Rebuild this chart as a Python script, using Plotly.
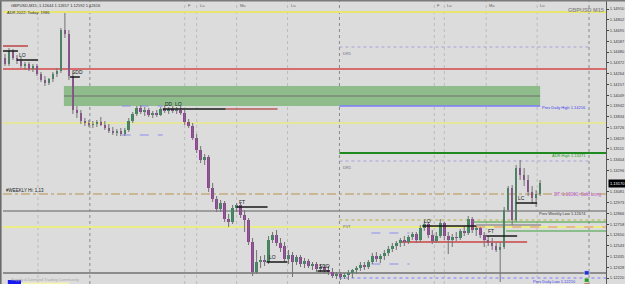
import plotly.graph_objects as go

# ---------------- data (GBPUSD M15 candles) ----------------
opens = [1.1442, 1.1436, 1.1449, 1.1442, 1.1439, 1.1434, 1.1436, 1.1431, 1.1434, 1.1426,
         1.1420, 1.1417, 1.1421, 1.1426, 1.1429, 1.1470, 1.1466, 1.1424, 1.1390, 1.1387,
         1.1379, 1.1377, 1.1375, 1.1376, 1.1378, 1.1375, 1.1372, 1.1369, 1.1367, 1.1369,
         1.1366, 1.1370, 1.1379, 1.1386, 1.1392, 1.1388, 1.1390, 1.1385, 1.1387, 1.1385,
         1.1391, 1.1389, 1.1391, 1.1389, 1.1390, 1.1387, 1.1378, 1.1374, 1.1362, 1.1350,
         1.1340, 1.1343, 1.1312, 1.1301, 1.1291, 1.1297, 1.1281, 1.1278, 1.1292, 1.1295,
         1.1285, 1.1280, 1.1258, 1.1228, 1.1238, 1.1240, 1.1238, 1.1260, 1.1265, 1.1257,
         1.1254, 1.1241, 1.1245, 1.1238, 1.1243, 1.1236, 1.1239, 1.1234, 1.1236, 1.1231,
         1.1233, 1.1230, 1.1228, 1.1224, 1.1226, 1.1223, 1.1225, 1.1227, 1.1230, 1.1232,
         1.1235, 1.1233, 1.1238, 1.1244, 1.1241, 1.1244, 1.1247, 1.1251, 1.1254, 1.1257,
         1.1260, 1.1258, 1.1263, 1.1266, 1.1260, 1.1272, 1.1276, 1.1265, 1.1259, 1.1264,
         1.1277, 1.1264, 1.1260, 1.1263, 1.1262, 1.1269, 1.1267, 1.1281, 1.1270, 1.1272,
         1.1265, 1.1260, 1.1257, 1.1254, 1.1250, 1.1253, 1.1290, 1.1312, 1.1280, 1.1332,
         1.1325, 1.1320, 1.1308, 1.1302, 1.1306]
highs = [1.1446, 1.1452, 1.1451, 1.1445, 1.1443, 1.1438, 1.1438, 1.1436, 1.1436, 1.1428,
         1.1424, 1.1422, 1.1428, 1.1432, 1.1472, 1.1487, 1.1470, 1.1428, 1.1394, 1.1390,
         1.1382, 1.1380, 1.1379, 1.1380, 1.1383, 1.1379, 1.1376, 1.1373, 1.1371, 1.1372,
         1.1372, 1.1382, 1.1388, 1.1394, 1.1395, 1.1393, 1.1392, 1.1389, 1.1390, 1.1393,
         1.1395, 1.1393, 1.1394, 1.1393, 1.1394, 1.1390, 1.1381, 1.1377, 1.1366, 1.1354,
         1.1346, 1.1345, 1.1317, 1.1304, 1.1300, 1.1299, 1.1286, 1.1295, 1.1297, 1.1297,
         1.1290, 1.1282, 1.1262, 1.1250, 1.1244, 1.1245, 1.1264, 1.1268, 1.1270, 1.1262,
         1.1258, 1.1250, 1.1248, 1.1245, 1.1245, 1.1242, 1.1241, 1.1238, 1.1238, 1.1236,
         1.1235, 1.1234, 1.1232, 1.1228, 1.1228, 1.1227, 1.1230, 1.1231, 1.1234, 1.1238,
         1.1238, 1.1240, 1.1247, 1.1248, 1.1246, 1.1250, 1.1254, 1.1257, 1.1259, 1.1262,
         1.1264, 1.1265, 1.1268, 1.1268, 1.1275, 1.1279, 1.1278, 1.1270, 1.1268, 1.1281,
         1.1278, 1.1268, 1.1266, 1.1268, 1.1271, 1.1274, 1.1284, 1.1283, 1.1274, 1.1273,
         1.1268, 1.1264, 1.1262, 1.1258, 1.1258, 1.1293, 1.1314, 1.1315, 1.1335, 1.1340,
         1.1332, 1.1325, 1.1314, 1.1310, 1.1320]
lows = [1.1434, 1.1434, 1.1440, 1.1436, 1.1432, 1.1430, 1.1429, 1.1428, 1.1424, 1.1418,
        1.1414, 1.1415, 1.1418, 1.1423, 1.1427, 1.1462, 1.1420, 1.1386, 1.1382, 1.1376,
        1.1374, 1.1373, 1.1372, 1.1373, 1.1374, 1.1370, 1.1367, 1.1365, 1.1364, 1.1364,
        1.1364, 1.1368, 1.1377, 1.1384, 1.1386, 1.1384, 1.1383, 1.1382, 1.1383, 1.1384,
        1.1387, 1.1386, 1.1387, 1.1386, 1.1385, 1.1375, 1.1372, 1.1360, 1.1347, 1.1337,
        1.1335, 1.1308, 1.1298, 1.1288, 1.1288, 1.1278, 1.1273, 1.1276, 1.1288, 1.1282,
        1.1268, 1.1255, 1.1224, 1.1226, 1.1232, 1.1234, 1.1236, 1.1257, 1.1254, 1.1248,
        1.1238, 1.1236, 1.1223, 1.1235, 1.1233, 1.1232, 1.1232, 1.1230, 1.1228, 1.1228,
        1.1227, 1.1225, 1.1222, 1.1221, 1.1220, 1.1221, 1.1220, 1.1222, 1.1226, 1.1229,
        1.1230, 1.1231, 1.1236, 1.1238, 1.1237, 1.1240, 1.1244, 1.1248, 1.1250, 1.1253,
        1.1254, 1.1256, 1.1260, 1.1257, 1.1258, 1.1269, 1.1262, 1.1256, 1.1257, 1.1262,
        1.1260, 1.1246, 1.1253, 1.1259, 1.1260, 1.1264, 1.1265, 1.1267, 1.1264, 1.1262,
        1.1253, 1.1254, 1.1250, 1.1248, 1.1218, 1.1251, 1.1288, 1.1275, 1.1278, 1.1320,
        1.1314, 1.1304, 1.1296, 1.1293, 1.1304]
closes = [1.1436, 1.1449, 1.1442, 1.1439, 1.1434, 1.1436, 1.1431, 1.1434, 1.1426, 1.1420,
          1.1417, 1.1421, 1.1426, 1.1429, 1.1470, 1.1466, 1.1424, 1.1390, 1.1387, 1.1379,
          1.1377, 1.1375, 1.1376, 1.1378, 1.1375, 1.1372, 1.1369, 1.1367, 1.1369, 1.1366,
          1.1370, 1.1379, 1.1386, 1.1392, 1.1388, 1.1390, 1.1385, 1.1387, 1.1385, 1.1391,
          1.1389, 1.1391, 1.1389, 1.1390, 1.1387, 1.1378, 1.1374, 1.1362, 1.1350, 1.1340,
          1.1343, 1.1312, 1.1301, 1.1291, 1.1297, 1.1281, 1.1278, 1.1292, 1.1295, 1.1285,
          1.1280, 1.1258, 1.1228, 1.1238, 1.1240, 1.1238, 1.1260, 1.1265, 1.1257, 1.1252,
          1.1241, 1.1245, 1.1238, 1.1243, 1.1236, 1.1239, 1.1234, 1.1236, 1.1231, 1.1233,
          1.1230, 1.1228, 1.1224, 1.1226, 1.1223, 1.1225, 1.1227, 1.1230, 1.1232, 1.1235,
          1.1233, 1.1238, 1.1244, 1.1241, 1.1244, 1.1247, 1.1251, 1.1254, 1.1257, 1.1260,
          1.1258, 1.1263, 1.1266, 1.1260, 1.1272, 1.1276, 1.1265, 1.1259, 1.1264, 1.1277,
          1.1264, 1.1260, 1.1263, 1.1262, 1.1269, 1.1267, 1.1281, 1.1270, 1.1272, 1.1265,
          1.1260, 1.1257, 1.1254, 1.1250, 1.1253, 1.1290, 1.1312, 1.1280, 1.1332, 1.1325,
          1.1320, 1.1308, 1.1302, 1.1306, 1.1317]
bar_index = list(range(len(opens)))

# right price-axis ticks (the one hidden under the last-price box is left out)
tick_prices = [1.14910, 1.14802, 1.14695, 1.14587, 1.14480, 1.14372, 1.14264, 1.14157,
               1.14049, 1.13942, 1.13834, 1.13726, 1.13619, 1.13511, 1.13404, 1.13296,
               1.13081, 1.12973, 1.12866, 1.12758, 1.12650, 1.12543, 1.12435,
               1.12328, 1.12220]

# session separators (bar index)
sep_light = [8.25, 45, 48, 58, 70.75, 107.5, 110, 120.5, 133.25]
sep_dark = [21.25, 83.75, 146.25]
sep_names = ["F", "Lu", "Ma", "Lu", "F", "Lu", "Ma", "Lu"]
sep_name_pos = [45, 48, 58, 70.75, 107.5, 110, 120.5, 133.25]

# full-width levels
full_prices = [1.1488, 1.1431, 1.1377, 1.1306, 1.1289, 1.1273, 1.1227]
# partial levels: price, start bar, end bar
part_prices = [1.1404, 1.1394, 1.1347, 1.1339, 1.1453, 1.1280, 1.1278, 1.1269, 1.1273,
               1.1258, 1.1222]
part_x0 = [14.75, 83.75, 83.75, 83.75, 83.75, 83.75, 116.75, 125.5, 118, 99.25, 83.75]
part_x1 = [134, 134, 150.5, 146.25, 146.25, 150.5, 150.5, 150.5, 150.5, 130.75, 150.5]
zone_low, zone_high, zone_x0, zone_x1 = 1.1394, 1.1414, 14.75, 134

# structure lines (price, start bar, end bar) with labels
struct_prices = [1.1449, 1.1440, 1.1423, 1.1391, 1.1293, 1.1238, 1.1229, 1.1274, 1.1264, 1.1297]
struct_x0 = [-0.5, 3, 16.25, 39.5, 58, 65.5, 78.25, 104.5, 120.5, 128]
struct_x1 = [3.25, 8.25, 18.75, 55.25, 65.75, 70.75, 81.25, 118, 128.25, 133.25]
struct_labels = ["", "LO", "SDD", "DD  LO", "FT", "LO", "SDD", "LO", "FT", "LC"]

BG = "#dcdcdc"
UP = "#2f8f5a"
DN = "#983c9f"
F = "Liberation Sans"

fig = go.Figure()

# wicks
wx, wy = [], []
for i, h, l in zip(bar_index, highs, lows):
    wx += [i, i, None]
    wy += [l, h, None]
fig.add_trace(go.Scatter(x=wx, y=wy, mode="lines", line=dict(color="#727272", width=1),
                         hoverinfo="skip", showlegend=False))
# bodies
fig.add_trace(go.Bar(x=bar_index, base=opens, y=[c - o for o, c in zip(opens, closes)],
                     marker=dict(color=[UP if c >= o else DN for o, c in zip(opens, closes)],
                                 line=dict(width=0)),
                     width=0.65, showlegend=False))

shapes = []
for s in sep_light:
    shapes.append(dict(type="line", xref="x", yref="paper", x0=s, x1=s, y0=0, y1=1,
                       line=dict(color="#bcbcbc", width=1, dash="dot"), layer="below"))
for s in sep_dark:
    shapes.append(dict(type="line", xref="x", yref="paper", x0=s, x1=s, y0=0, y1=1,
                       line=dict(color="#8a8a8a", width=1, dash="dot"), layer="below"))
shapes.append(dict(type="rect", xref="x", yref="y", x0=zone_x0, x1=zone_x1, y0=zone_low,
                   y1=zone_high, fillcolor="#8fbc8b", line=dict(width=0), layer="below"))
full_styles = [("#e8e66e", 2, "solid"), ("#d64a4a", 1.5, "solid"), ("#eeee5a", 1, "solid"),
               ("#b8914a", 1.2, "dashdot"), ("#8a8a8a", 1.5, "solid"), ("#ecec84", 2, "solid"),
               ("#8c8c8c", 2, "solid")]
for p, (c, w, d) in zip(full_prices, full_styles):
    shapes.append(dict(type="line", xref="paper", yref="y", x0=0, x1=1, y0=p, y1=p,
                       line=dict(color=c, width=w, dash=d), layer="below"))
part_styles = [("#6e6e6e", 1, "solid"), ("#7d7dff", 1.5, "solid"), ("#1f8a1f", 2, "solid"),
               ("#a8a0dc", 1, "dot"), ("#a8a0dc", 1, "dot"), ("#b8b040", 1, "dot"),
               ("#3aa03a", 1.2, "solid"), ("#3aa03a", 1.2, "solid"), ("#e08a8a", 1.2, "dash"),
               ("#cc4444", 1.5, "solid"), ("#7d7dff", 1, "dot")]
for p, a, b, (c, w, d) in zip(part_prices, part_x0, part_x1, part_styles):
    shapes.append(dict(type="line", xref="x", yref="y", x0=a, x1=b, y0=p, y1=p,
                       line=dict(color=c, width=w, dash=d), layer="below"))
extra = [(1.1454, -0.5, 5.75, "#c46a6a", 2, "solid"), (1.1391, 55.25, 68.25, "#b85a5a", 1.5, "solid"),
         (1.1394, 29.25, 39.5, "#8c8cf0", 1, "dash"), (1.1365, 29.25, 39.5, "#8c8cf0", 1, "dash"),
         (1.1267, 91.75, 101.25, "#8c8cf0", 1, "dash"), (1.1236, 91.75, 101.25, "#8c8cf0", 1, "dash"),
         (1.1275, 118, 134.25, "#707070", 1, "solid")]
for p, a, b, c, w, d in extra:
    shapes.append(dict(type="line", xref="x", yref="y", x0=a, x1=b, y0=p, y1=p,
                       line=dict(color=c, width=w, dash=d), layer="below"))
for p, a, b in zip(struct_prices, struct_x0, struct_x1):
    shapes.append(dict(type="line", xref="x", yref="y", x0=a, x1=b, y0=p, y1=p,
                       line=dict(color="#1a1a1a", width=1.5)))
# frame
shapes.append(dict(type="line", xref="paper", yref="paper", x0=-0.004, x1=-0.004, y0=0, y1=1.01,
                   line=dict(color="#6a6a6a", width=2)))
shapes.append(dict(type="line", xref="paper", yref="paper", x0=-0.01, x1=1.04, y0=1.002, y1=1.002,
                   line=dict(color="#7a7a7a", width=2)))
# small boxes at the bottom
shapes.append(dict(type="rect", xref="paper", yref="paper", x0=0.008, x1=0.030, y0=0, y1=0.014,
                   fillcolor="#1a1af0", line=dict(width=0)))
shapes.append(dict(type="rect", xref="paper", yref="paper", x0=0.030, x1=0.11, y0=0, y1=0.005,
                   fillcolor="#f4f4b0", line=dict(width=0)))
shapes.append(dict(type="rect", xref="paper", yref="paper", x0=0.964, x1=0.972, y0=0.032, y1=0.047,
                   fillcolor="#2030d0", line=dict(color="#ffffff", width=0.5)))
shapes.append(dict(type="rect", xref="paper", yref="paper", x0=0.964, x1=0.972, y0=0.006, y1=0.021,
                   fillcolor="#2a9a2a", line=dict(color="#ffffff", width=0.5)))
shapes.append(dict(type="rect", xref="paper", yref="paper", x0=0.964, x1=0.972, y0=-0.01, y1=0.002,
                   fillcolor="#c03030", line=dict(width=0)))

ann = []
def txt(x, y, t, color, size=4, xa="left", ya="bottom", xref="x", yref="y", **kw):
    ann.append(dict(x=x, y=y, text=t, xref=xref, yref=yref, showarrow=False, xanchor=xa,
                    yanchor=ya, font=dict(family=F, size=size, color=color), **kw))

for p, a, lab in zip(struct_prices, struct_x0, struct_labels):
    if lab:
        txt(a, p, lab, "#202020", size=5)
for p, lab in [(1.1451, "DR1"), (1.1337, "DR1"), (1.1278, "PVT")]:
    txt(84.2, p, lab, "#6a6a80", size=4, ya="top")
txt(146, 1.1393, "Prev Daily High 1.14216", "#4040f0", xa="right", ya="middle")
txt(146, 1.1345, "ADR High 1.13471", "#2a9a2a", xa="right", ya="middle")
txt(137, 1.1306, "DT: 1.13060, Sold Long", "#c060d8", size=4.5, ya="middle")
txt(146, 1.1287, "Prev Weekly Low 1.12674", "#383838", xa="right", ya="middle")
txt(143.5, 1.1219, "Prev Daily Low 1.12210", "#4040f0", xa="right", ya="middle")
txt(-0.3, 1.1310, "#WEEKLY Hi: 1.13", "#202020", size=4.5, ya="middle")
txt(1, 1.1221, "Supply & Demand Trading Community", "#a8a8a8", size=4, ya="middle")
for s, n in zip(sep_name_pos, sep_names):
    txt(s + 0.3, 1.0, n, "#606060", size=4, yref="paper", ya="top")
txt(0.01, 1.0, "GBPUSD,M15  1.12644 1.12657 1.12592 1.12616", "#303030", size=4,
    xref="paper", yref="paper", ya="top")
txt(0.003, 0.975, "ADR 2022: Today: 1986", "#303030", size=4, xref="paper", yref="paper", ya="top")
txt(1.0, 0.985, "<b>GBPUSD M15</b>", "#8c8c8c", size=5.5, xa="right", xref="paper",
    yref="paper", ya="top")
txt(1.004, closes[-1], "%.5f" % closes[-1], "#ffffff", size=4, xref="paper", ya="middle",
    bgcolor="#000000", borderpad=1)

fig.update_layout(
    width=625, height=284, template="none",
    margin=dict(l=3, r=19, t=1, b=0, pad=0),
    paper_bgcolor=BG, plot_bgcolor=BG, showlegend=False, bargap=0,
    shapes=shapes, annotations=ann,
    xaxis=dict(range=[-0.5, 150.5], showgrid=False, zeroline=False, showticklabels=False,
               ticks="", showline=False, automargin=False, fixedrange=True),
    yaxis=dict(range=[1.1216, 1.1499], side="right", showgrid=False, zeroline=False,
               tickvals=tick_prices, tickformat=".5f", ticks="outside", ticklen=2,
               tickcolor="#404040", tickfont=dict(family=F, size=4, color="#383838"),
               showline=True, linecolor="#5a5a5a", linewidth=1, automargin=False),
)
fig.write_html("out.html")
